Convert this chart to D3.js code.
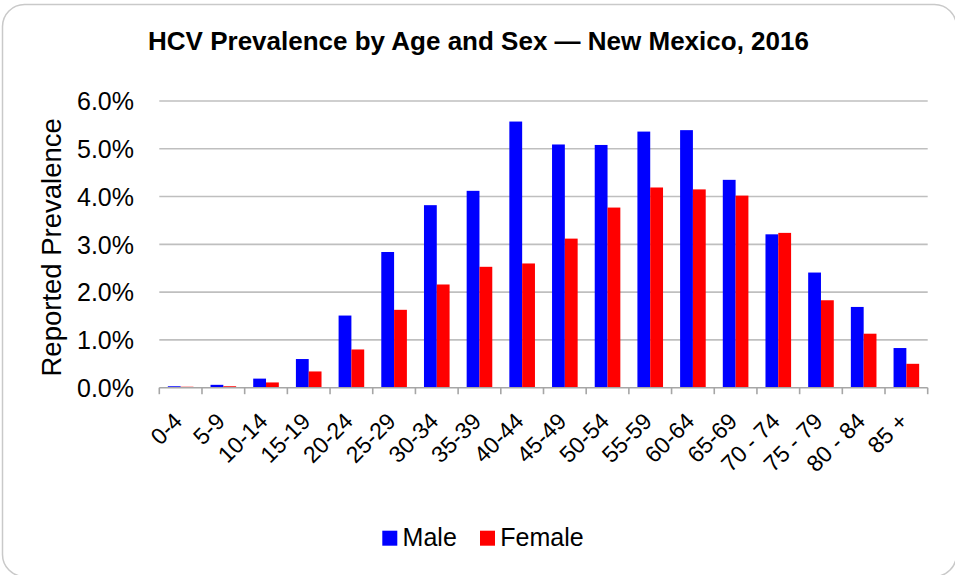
<!DOCTYPE html>
<html>
<head>
<meta charset="utf-8">
<script src="https://cdn.jsdelivr.net/npm/d3@7"></script>
<style>
  html, body { margin: 0; padding: 0; background: #fff; }
  svg { display: block; }
  text { font-family: "Liberation Sans", Arial, sans-serif; fill: #000; }
</style>
</head>
<body>
<svg id="chart" width="955" height="575"></svg>
<script>
// Age groups (x-axis categories)
const ageGroups = ["0-4", "5-9", "10-14", "15-19", "20-24", "25-29", "30-34", "35-39",
  "40-44", "45-49", "50-54", "55-59", "60-64", "65-69", "70 - 74", "75 - 79", "80 - 84", "85 +"];

// Reported prevalence (%) by sex
const maleValues = [0.03, 0.06, 0.19, 0.60, 1.51, 2.84, 3.82, 4.12, 5.57, 5.09, 5.08, 5.36,
  5.39, 4.35, 3.21, 2.41, 1.69, 0.83];
const femaleValues = [0.02, 0.03, 0.11, 0.34, 0.80, 1.63, 2.16, 2.53, 2.60, 3.12, 3.77, 4.19,
  4.15, 4.02, 3.24, 1.83, 1.13, 0.50];

const seriesNames = ["Male", "Female"];
const seriesColors = ["#0000ff", "#ff0000"];
const yTicks = [0, 1, 2, 3, 4, 5, 6];

const title = "HCV Prevalence by Age and Sex \u2014 New Mexico, 2016";
const yTitle = "Reported Prevalence";

const svg = d3.select("#chart");

// Chart frame
svg.append("rect")
  .attr("x", 2.5).attr("y", 4.5)
  .attr("width", 954).attr("height", 572)
  .attr("rx", 22).attr("ry", 22)
  .attr("fill", "#fff")
  .attr("stroke", "#c9c9c9")
  .attr("stroke-width", 1.5);

const plot = { left: 159.3, right: 927.7, top: 101, bottom: 387.7 };

const x0 = d3.scaleBand()
  .domain(ageGroups)
  .range([plot.left, plot.right])
  .padding(0);

const bw = x0.bandwidth();
const x1 = d3.scaleBand()
  .domain(seriesNames)
  .range([bw * 0.2, bw * 0.8])
  .padding(0);

const y = d3.scaleLinear()
  .domain([0, 6])
  .range([plot.bottom, plot.top]);

// Horizontal gridlines
svg.append("g")
  .selectAll("line")
  .data(yTicks.filter(d => d > 0))
  .join("line")
  .attr("x1", plot.left).attr("x2", plot.right)
  .attr("y1", d => y(d)).attr("y2", d => y(d))
  .attr("stroke", "#bfbfbf")
  .attr("stroke-width", 1.6);

// Y-axis tick labels
svg.append("g")
  .selectAll("text")
  .data(yTicks)
  .join("text")
  .attr("x", 134)
  .attr("y", d => y(d) + 9.3)
  .attr("text-anchor", "end")
  .style("font-size", "25px")
  .text(d => d3.format(".1f")(d) + "%");

// Bars
const rows = ageGroups.map((g, i) => ({ group: g, values: [maleValues[i], femaleValues[i]] }));

svg.append("g")
  .selectAll("g")
  .data(rows)
  .join("g")
  .attr("transform", d => `translate(${x0(d.group)},0)`)
  .selectAll("rect")
  .data(d => d.values.map((v, k) => ({ key: seriesNames[k], value: v, color: seriesColors[k] })))
  .join("rect")
  .attr("x", d => x1(d.key))
  .attr("width", x1.bandwidth())
  .attr("y", d => y(d.value))
  .attr("height", d => y(0) - y(d.value))
  .attr("fill", d => d.color);

// X axis line and category boundary ticks
const axisG = svg.append("g");
axisG.append("line")
  .attr("x1", plot.left).attr("x2", plot.right)
  .attr("y1", plot.bottom).attr("y2", plot.bottom)
  .attr("stroke", "#a6a6a6")
  .attr("stroke-width", 1.6);

const boundaries = ageGroups.map(g => x0(g)).concat([plot.right]);
axisG.selectAll("line.tick")
  .data(boundaries)
  .join("line")
  .attr("class", "tick")
  .attr("x1", d => d).attr("x2", d => d)
  .attr("y1", plot.bottom).attr("y2", plot.bottom + 6.5)
  .attr("stroke", "#a6a6a6")
  .attr("stroke-width", 1.6);

// Rotated category labels
axisG.selectAll("text")
  .data(ageGroups)
  .join("text")
  .attr("transform", d => `translate(${x0(d) + bw / 2 + 3},${plot.bottom + 35}) rotate(-45)`)
  .attr("text-anchor", "end")
  .style("font-size", "23px")
  .text(d => d);

// Y-axis title
svg.append("text")
  .attr("transform", `translate(61,${(plot.top + plot.bottom) / 2 + 3}) rotate(-90)`)
  .attr("text-anchor", "middle")
  .style("font-size", "27.5px")
  .text(yTitle);

// Chart title
svg.append("text")
  .attr("x", 478.5)
  .attr("y", 50)
  .attr("text-anchor", "middle")
  .style("font-size", "26px")
  .style("font-weight", "bold")
  .text(title);

// Legend
const legendItems = [
  { name: seriesNames[0], color: seriesColors[0], x: 382.3 },
  { name: seriesNames[1], color: seriesColors[1], x: 480 }
];
const legend = svg.append("g");
legend.selectAll("rect")
  .data(legendItems)
  .join("rect")
  .attr("x", d => d.x)
  .attr("y", 530.7)
  .attr("width", 15)
  .attr("height", 15)
  .attr("fill", d => d.color);
legend.selectAll("text")
  .data(legendItems)
  .join("text")
  .attr("x", d => d.x + 20.3)
  .attr("y", 546)
  .style("font-size", "25px")
  .text(d => d.name);
</script>
</body>
</html>
